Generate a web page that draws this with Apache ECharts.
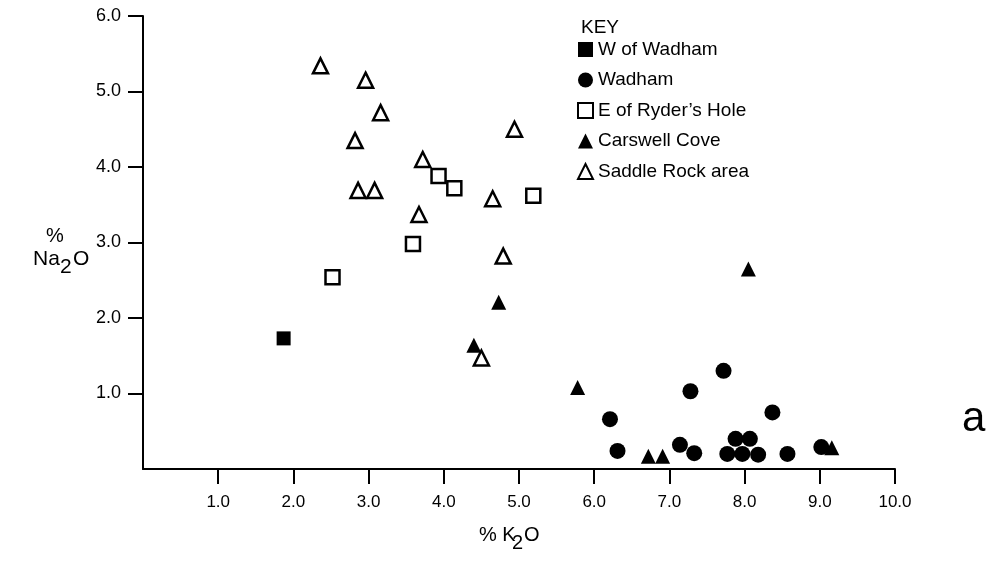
<!DOCTYPE html>
<html>
<head>
    <meta charset="utf-8" />
    <title>Na2O vs K2O</title>
    <script src="https://cdn.jsdelivr.net/npm/echarts@6/dist/echarts.min.js"></script>
    <style type="text/css">
        html, body { margin: 0; padding: 0; background: #fff; }
        #chart { width: 997px; height: 562px; }
    </style>
</head>
<body>
    <div id="chart"></div>
    <script>
        // 数据：[K2O %, Na2O %]
        var wOfWadham = [[1.87, 1.73]];
        var wadham = [
            [6.21, 0.66], [6.31, 0.24], [7.14, 0.32], [7.33, 0.21], [7.28, 1.03],
            [7.72, 1.30], [7.88, 0.40], [8.07, 0.40], [7.77, 0.20], [7.97, 0.20],
            [8.18, 0.19], [8.37, 0.75], [8.57, 0.20], [9.02, 0.29]
        ];
        var eOfRyders = [[2.52, 2.54], [3.59, 2.98], [3.93, 3.88], [4.14, 3.72], [5.19, 3.62]];
        var carswell = [
            [4.73, 2.21], [4.40, 1.64], [5.78, 1.08], [8.05, 2.65],
            [6.72, 0.17], [6.91, 0.17], [9.16, 0.28]
        ];
        var saddleRock = [
            [2.36, 5.34], [2.96, 5.15], [3.16, 4.72], [2.82, 4.35], [2.86, 3.69],
            [3.08, 3.69], [3.72, 4.10], [3.67, 3.37], [4.94, 4.50], [4.65, 3.58],
            [4.79, 2.82], [4.50, 1.47]
        ];
        var seriesNames = ['W of Wadham', 'Wadham', 'E of Ryder\u2019s Hole', 'Carswell Cove', 'Saddle Rock area'];
        var xTicks = [1, 2, 3, 4, 5, 6, 7, 8, 9, 10];
        var yTicks = [1, 2, 3, 4, 5, 6];

        var font = '"Liberation Sans", Arial, sans-serif';
        var chart = echarts.init(document.getElementById('chart'));

        function fmt(v) {
            return v.toFixed(1);
        }

        var solid = { color: '#000', opacity: 1 };
        var hollow = { color: '#fff', borderColor: '#000', borderWidth: 2.5, opacity: 1 };

        var option = {
            animation: false,
            backgroundColor: '#fff',
            grid: { left: 143, right: 102, top: 16, bottom: 93 },
            legend: {
                orient: 'vertical',
                left: 572,
                top: 35,
                itemGap: 11.5,
                itemWidth: 15,
                itemHeight: 15,
                selectedMode: false,
                textStyle: { fontFamily: font, fontSize: 19, color: '#000' },
                data: seriesNames
            },
            xAxis: {
                type: 'value',
                min: 0, max: 10, interval: 1,
                axisLine: { lineStyle: { color: '#000', width: 2 } },
                axisTick: { length: 15, customValues: xTicks, lineStyle: { color: '#000', width: 2 } },
                axisLabel: { customValues: xTicks, formatter: fmt, color: '#000', fontFamily: font, fontSize: 17, margin: 25 },
                splitLine: { show: false }
            },
            yAxis: {
                type: 'value',
                min: 0, max: 6, interval: 1,
                axisLine: { lineStyle: { color: '#000', width: 2 } },
                axisTick: { length: 15, customValues: yTicks, lineStyle: { color: '#000', width: 2 } },
                axisLabel: { customValues: yTicks, formatter: fmt, color: '#000', fontFamily: font, fontSize: 18, margin: 22 },
                splitLine: { show: false }
            },
            series: [
                { name: seriesNames[0], type: 'scatter', symbol: 'rect', symbolSize: 14, itemStyle: solid, data: wOfWadham },
                { name: seriesNames[1], type: 'scatter', symbol: 'circle', symbolSize: 16, itemStyle: solid, data: wadham },
                { name: seriesNames[2], type: 'scatter', symbol: 'rect', symbolSize: 14, itemStyle: hollow, data: eOfRyders },
                { name: seriesNames[3], type: 'scatter', symbol: 'triangle', symbolSize: 15, itemStyle: solid, data: carswell },
                { name: seriesNames[4], type: 'scatter', symbol: 'triangle', symbolSize: 15, itemStyle: hollow, data: saddleRock }
            ],
            graphic: [
                { type: 'text', left: 581, top: 18, style: { text: 'KEY', font: '19px ' + font, fill: '#000' } },
                { type: 'text', left: 46, top: 226, style: { text: '%', font: '20px ' + font, fill: '#000' } },
                { type: 'text', left: 33, top: 249, style: { text: 'Na', font: '21px ' + font, fill: '#000' } },
                { type: 'text', left: 60, top: 257, style: { text: '2', font: '21px ' + font, fill: '#000' } },
                { type: 'text', left: 73, top: 249, style: { text: 'O', font: '21px ' + font, fill: '#000' } },
                { type: 'text', left: 479, top: 525, style: { text: '% K', font: '20px ' + font, fill: '#000' } },
                { type: 'text', left: 512, top: 533, style: { text: '2', font: '20px ' + font, fill: '#000' } },
                { type: 'text', left: 524, top: 525, style: { text: 'O', font: '20px ' + font, fill: '#000' } },
                { type: 'text', left: 962, top: 398, style: { text: 'a', font: '42px ' + font, fill: '#000' } }
            ]
        };

        chart.setOption(option);
    </script>
</body>
</html>
